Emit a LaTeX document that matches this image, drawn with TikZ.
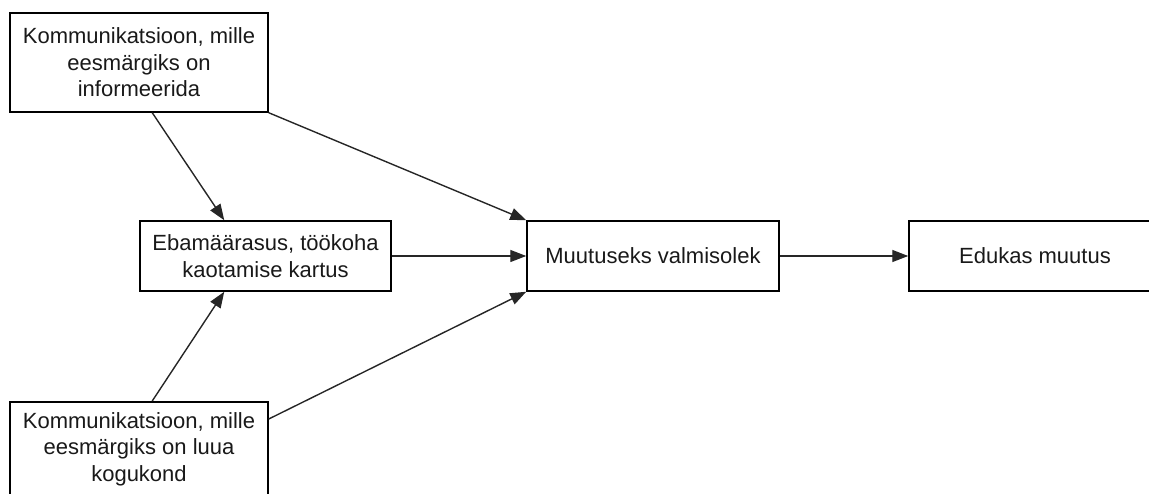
\documentclass[tikz,border=0pt]{standalone}
\usepackage{fontspec}
\setmainfont{Liberation Sans}
\usetikzlibrary{arrows.meta}
\tikzset{
  box/.style={draw=black, line width=1.5pt, rectangle, inner sep=0pt, align=center,
    font=\fontsize{22pt}{26.5pt}\selectfont, text=black!90},
  conn/.style={line width=1.4pt, draw=black!85, -{Triangle[length=16pt,width=12pt]}}
}
\begin{document}
\begin{tikzpicture}[x=1pt,y=-1pt]
\useasboundingbox (0,0) rectangle (1149,494);
\clip (0,0) rectangle (1149,494);
\node[box, minimum width=258pt, minimum height=99pt] (b1) at (139,62.5)
  {Kommunikatsioon, mille\\eesmärgiks on\\informeerida};
\node[box, minimum width=251pt, minimum height=70pt] (b2) at (265.5,256)
  {Ebamäärasus, töökoha\\kaotamise kartus};
\node[box, minimum width=258pt, minimum height=95pt, anchor=north] (b3) at (139,401)
  {Kommunikatsioon, mille\\eesmärgiks on luua\\kogukond};
\node[box, minimum width=252pt, minimum height=70pt] (b4) at (653,256)
  {Muutuseks valmisolek};
\node[box, minimum width=252pt, minimum height=70pt] (b5) at (1035,256)
  {Edukas muutus};
\draw[conn] ([xshift=143pt]b1.south west) -- ([xshift=85pt]b2.north west);
\draw[conn] ([xshift=143pt]b3.north west) -- ([xshift=85pt]b2.south west);
\draw[conn] (b1.south east) -- (b4.north west);
\draw[conn] ([yshift=-18pt]b3.north east) -- (b4.south west);
\draw[conn] (b2.east) -- (b4.west);
\draw[conn] (b4.east) -- (b5.west);
\end{tikzpicture}
\end{document}
